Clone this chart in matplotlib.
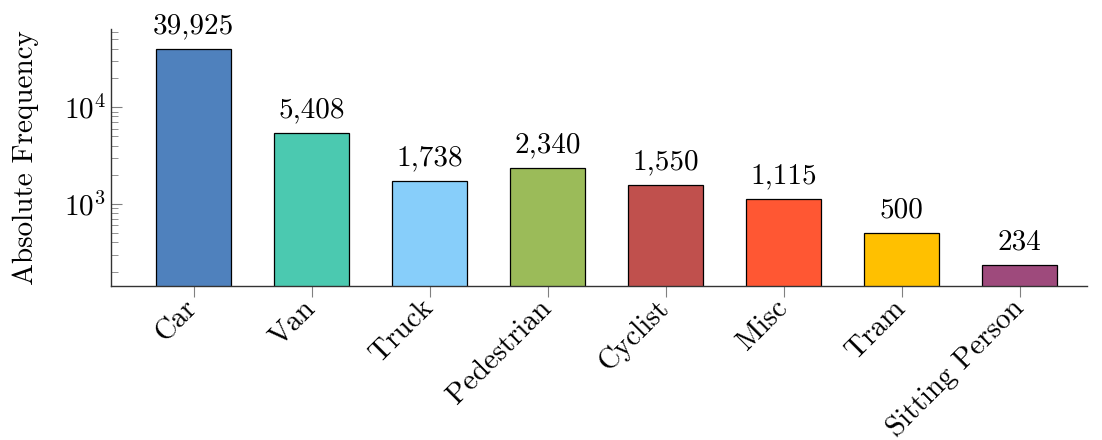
import matplotlib.pyplot as plt
import matplotlib.transforms as mtransforms
import numpy as np

categories = ["Car", "Van", "Truck", "Pedestrian", "Cyclist", "Misc", "Tram", "Sitting Person"]
counts = [39925, 5408, 1738, 2340, 1550, 1115, 500, 234]
colors = ["#4F81BD", "#4BC9B0", "#87CEFA", "#9BBB59", "#C0504D", "#FF5733", "#FFC000", "#9E4A7C"]

plt.rcParams["font.family"] = "cmr10"
plt.rcParams["mathtext.fontset"] = "cm"
plt.rcParams["axes.formatter.use_mathtext"] = True

fig = plt.figure(figsize=(11.02, 4.4), dpi=100)
ax = fig.add_axes([0.1007, 0.35, 0.8857, 0.584])

x = np.arange(len(categories))
ax.bar(x, counts, width=0.636, color=colors, edgecolor="black", linewidth=0.9, zorder=2)
ax.set_yscale("log")
ax.set_ylim(142, 64000)
ax.set_xlim(-0.70, 7.57)

for xi, c in zip(x, counts):
    ax.annotate(f"{c:,}", (xi, c), xytext=(0, 7), textcoords="offset points",
                ha="center", va="bottom", fontsize=21)

ax.set_xticks(x)
ax.set_xticklabels(categories, rotation=45, ha="right", va="center",
                   rotation_mode="anchor", fontsize=21)
# nudge the rotated labels a little to the left of their ticks
shift = mtransforms.ScaledTranslation(-4 / 72, 0, fig.dpi_scale_trans)
for lbl in ax.get_xticklabels():
    lbl.set_transform(lbl.get_transform() + shift)

ax.set_ylabel("Absolute Frequency", fontsize=21, labelpad=18)
ax.tick_params(axis="y", which="major", direction="in", length=8, color="gray", labelsize=21)
ax.tick_params(axis="y", which="minor", direction="in", length=5, color="gray")
ax.tick_params(axis="x", direction="out", length=8, color="gray", pad=5)

for side in ["top", "right"]:
    ax.spines[side].set_visible(False)
for side in ["left", "bottom"]:
    ax.spines[side].set_color("#333333")
    ax.spines[side].set_linewidth(1.0)

fig.savefig("out.png", dpi=100)
